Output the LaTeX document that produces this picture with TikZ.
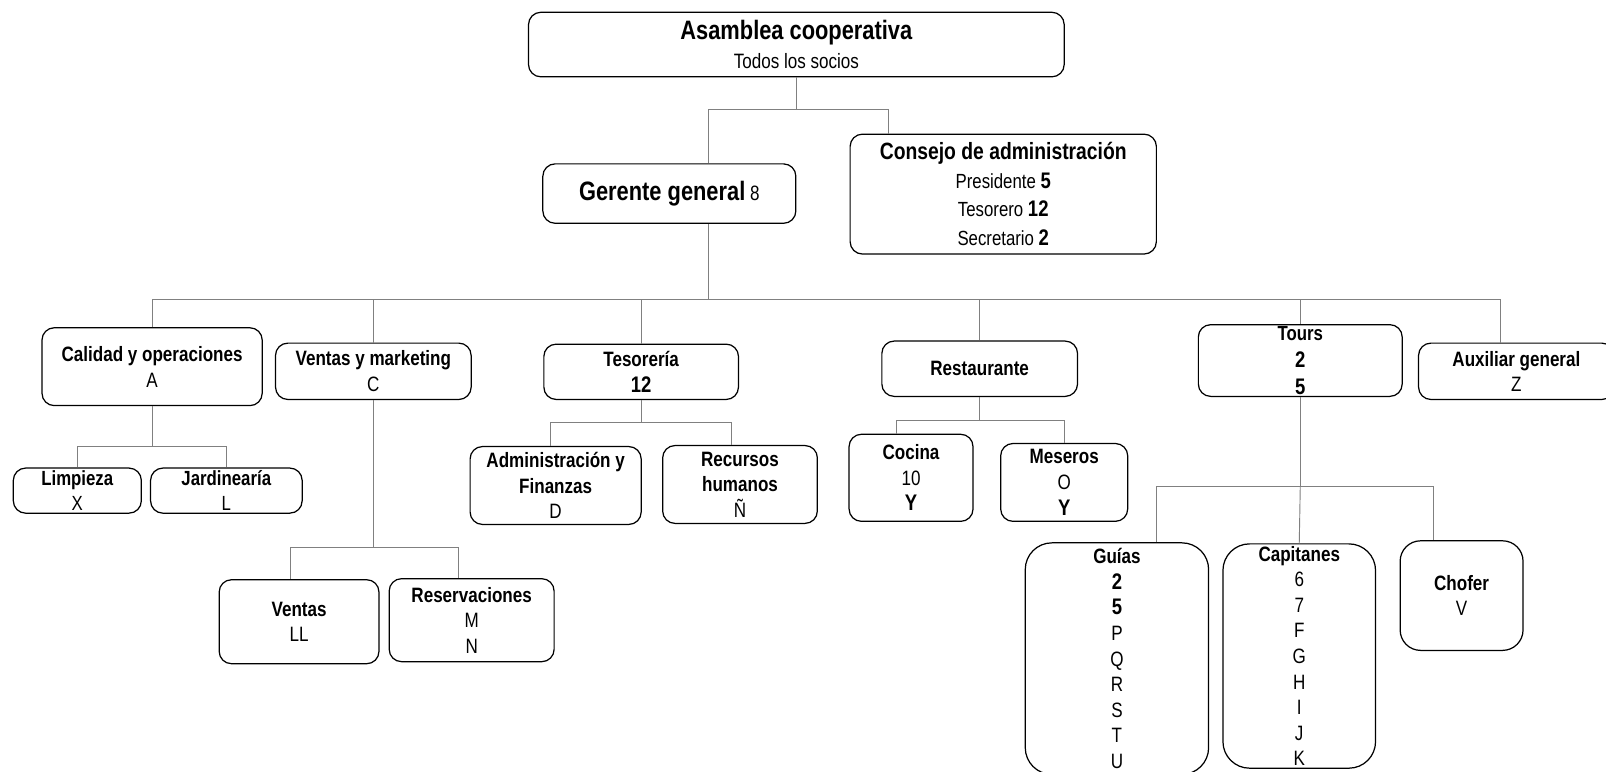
\documentclass[tikz,border=0pt]{standalone}
\usepackage{fontspec}
\setmainfont{Liberation Sans}[FakeStretch=0.82]
\usepackage{tikz}
\usetikzlibrary{positioning,calc}
\tikzset{
  unit/.style={draw,rounded corners=12pt,line width=1.2pt,align=center,inner sep=0pt,
    font=\fontsize{20.3}{25}\selectfont},
  wh/.style 2 args={minimum width=#1pt,minimum height=#2pt},
  conn/.style={draw=gray,line width=0.9pt},
}
\newcommand{\bnum}[1]{{\fontsize{22}{25}\selectfont\bfseries #1}}

\begin{document}
\begin{tikzpicture}[x=1pt,y=-1pt,
      tall/.style={unit,rounded corners=26pt}]
      \useasboundingbox (0,0) rectangle (1568,753);

      \node[unit,wh={523}{63}] (asamblea) at (777.5,43.5)
        {{\fontsize{26}{30}\selectfont\bfseries Asamblea cooperativa}\\[3pt]Todos los socios};
      \node[unit,wh={247}{58}] (gerente) at (653.5,189)
        {{\fontsize{26}{30}\selectfont\bfseries Gerente general} 8};
      \node[unit,wh={299}{117},font=\fontsize{20}{28}\selectfont] (consejo) at (979.5,189.5)
        {{\fontsize{23}{28}\selectfont\bfseries Consejo de administración}\\
         Presidente \bnum{5}\\Tesorero \bnum{12}\\Secretario \bnum{2}};

      \node[unit,wh={215}{76}] (calidad) at (148.5,358) {\textbf{Calidad y operaciones}\\A};
      \node[unit,wh={191}{55}] (ventasmk) at (364.5,362.5) {\textbf{Ventas y marketing}\\C};
      \node[unit,wh={190}{54}] (tesoreria) at (626,363) {\textbf{Tesorería}\\\bnum{12}};
      \node[unit,wh={191}{54}] (restaurante) at (956.5,360) {\textbf{Restaurante}};
      \node[unit,wh={199}{70},font=\fontsize{20}{26}\selectfont] (tours) at (1269.5,352)
        {\textbf{Tours}\\\bnum{2}\\\bnum{5}};
      \node[unit,wh={191}{55}] (auxiliar) at (1480.5,362.5) {\textbf{Auxiliar general}\\Z};

      \node[unit,wh={125}{44},font=\fontsize{20}{24}\selectfont] (limpieza) at (75.5,479) {\textbf{Limpieza}\\X};
      \node[unit,wh={148}{44},font=\fontsize{20}{24}\selectfont] (jardin) at (221,479) {\textbf{Jardinearía}\\L};
      \node[unit,wh={156}{82}] (ventas) at (292,607) {\textbf{Ventas}\\LL};
      \node[unit,wh={161}{81}] (reservas) at (460.5,605.5) {\textbf{Reservaciones}\\M\\N};
      \node[unit,wh={167}{76}] (admin) at (542.5,474) {\textbf{Administración y}\\\textbf{Finanzas}\\D};
      \node[unit,wh={151}{76}] (rrhh) at (722.5,473) {\textbf{Recursos}\\\textbf{humanos}\\Ñ};
      \node[unit,wh={121}{85}] (cocina) at (889.5,466.5) {\textbf{Cocina}\\10\\\bnum{Y}};
      \node[unit,wh={124}{76}] (meseros) at (1039,471) {\textbf{Meseros}\\O\\\bnum{Y}};

      \node[tall,wh={179}{226}] (guias) at (1090.5,643)
        {\textbf{Guías}\\\bnum{2}\\\bnum{5}\\P\\Q\\R\\S\\T\\U};
      \node[tall,wh={149}{219}] (capitanes) at (1268.5,640.5)
        {\textbf{Capitanes}\\6\\7\\F\\G\\H\\I\\J\\K};
      \node[unit,rounded corners=20pt,wh={120}{107}] (chofer) at (1427,581.5) {\textbf{Chofer}\\V};

      \draw[conn] (asamblea.south) -- ++(0,31) coordinate (bus0);
      \draw[conn] ([xshift=38.5pt]gerente.north) |- (bus0) -| ([xshift=-112.5pt]consejo.north);

      \draw[conn] ([xshift=38.5pt]gerente.south) -- ++(0,74) coordinate (bus1);
      \draw[conn] (calidad.north) |- (bus1) -| ([xshift=-15.5pt]auxiliar.north);
      \foreach \n in {ventasmk,tesoreria,restaurante,tours}
        \draw[conn] (\n.north |- bus1) -- (\n.north);

      \draw[conn] (calidad.south) -- ++(0,39) coordinate (bus2);
      \draw[conn] (limpieza.north) |- (bus2) -| (jardin.north);

      \draw[conn] (ventasmk.south) -- ++(0,144) coordinate (bus3);
      \draw[conn] ([xshift=-8pt]ventas.north) |- (bus3) -| ([xshift=-12.5pt]reservas.north);

      \draw[conn] (tesoreria.south) -- ++(0,22) coordinate (bus4);
      \draw[conn] ([xshift=-5.5pt]admin.north) |- (bus4) -| ([xshift=-8.5pt]rrhh.north);

      \draw[conn] (restaurante.south) -- ++(0,23) coordinate (bus5);
      \draw[conn] ([xshift=-14.5pt]cocina.north) |- (bus5) -| (meseros.north);

      \draw[conn] (tours.south) -- ++(0,87) coordinate (bus6);
      \draw[conn] ([xshift=38.5pt]guias.north) |- (bus6) -| ([xshift=-27pt]chofer.north);
      \draw[conn] (bus6) -- (capitanes.north);
\end{tikzpicture}
\end{document}
